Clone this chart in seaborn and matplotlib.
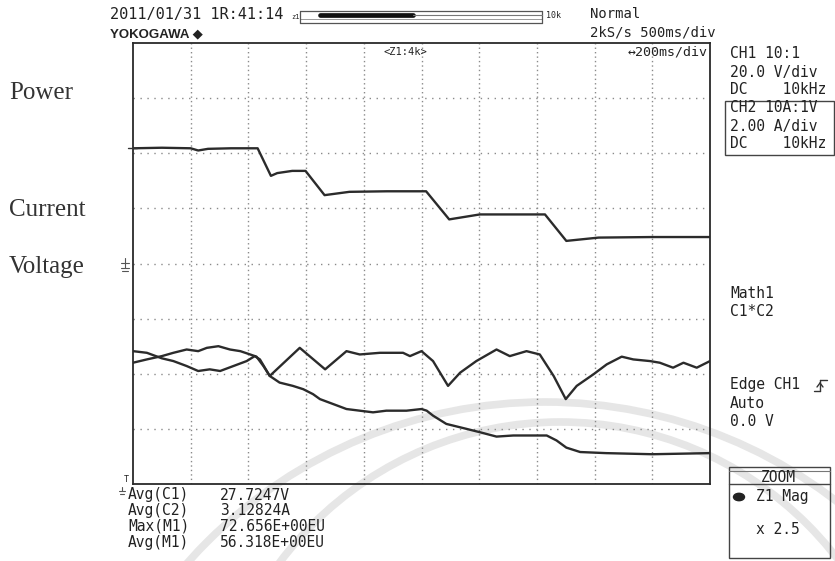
import numpy as np
import pandas as pd
import matplotlib
matplotlib.use("Agg")
import matplotlib.pyplot as plt
import seaborn as sns
from matplotlib.patches import Rectangle, Arc, Circle
from matplotlib.lines import Line2D

# ---- data (divisions: x 0..10, y -4..4) ----
power_x = [0.0, 0.5, 1.0, 1.13, 1.3, 1.7, 2.0, 2.16, 2.39, 2.5, 2.76, 2.99, 3.32, 3.75, 4.4, 5.08, 5.48, 6.01, 6.6, 7.14, 7.51, 8.07, 9.0, 10.0]
power_y = [2.09, 2.10, 2.09, 2.05, 2.08, 2.09, 2.09, 2.09, 1.59, 1.64, 1.68, 1.68, 1.24, 1.30, 1.31, 1.31, 0.80, 0.89, 0.89, 0.89, 0.41, 0.47, 0.48, 0.48]

current_x = [0.0, 0.24, 0.50, 0.70, 0.93, 1.13, 1.33, 1.51, 1.74, 1.97, 2.11, 2.20, 2.37, 2.89, 3.33, 3.70, 3.93, 4.28, 4.68, 4.80, 5.00, 5.20, 5.46, 5.67, 5.95, 6.30, 6.53, 6.82, 7.05, 7.29, 7.50, 7.69, 7.98, 8.21, 8.47, 8.67, 8.96, 9.13, 9.36, 9.54, 9.77, 10.0]
current_y = [-1.59, -1.62, -1.72, -1.77, -1.86, -1.95, -1.92, -1.95, -1.86, -1.77, -1.68, -1.74, -2.04, -1.53, -1.92, -1.59, -1.65, -1.62, -1.62, -1.68, -1.59, -1.77, -2.22, -1.98, -1.77, -1.56, -1.68, -1.59, -1.65, -2.04, -2.46, -2.22, -2.01, -1.83, -1.69, -1.74, -1.77, -1.80, -1.89, -1.80, -1.89, -1.77]

voltage_x = [0.0, 0.24, 0.50, 0.70, 0.93, 1.13, 1.28, 1.48, 1.68, 1.86, 2.03, 2.14, 2.26, 2.37, 2.54, 2.77, 2.95, 3.12, 3.24, 3.47, 3.70, 3.93, 4.16, 4.39, 4.74, 5.00, 5.09, 5.20, 5.43, 5.78, 6.01, 6.30, 6.59, 7.17, 7.34, 7.51, 7.75, 8.2, 9.0, 10.0]
voltage_y = [-1.80, -1.74, -1.68, -1.62, -1.56, -1.59, -1.53, -1.50, -1.56, -1.59, -1.65, -1.69, -1.86, -2.04, -2.16, -2.22, -2.28, -2.37, -2.46, -2.55, -2.64, -2.67, -2.70, -2.67, -2.67, -2.64, -2.67, -2.76, -2.91, -3.00, -3.06, -3.14, -3.12, -3.12, -3.21, -3.34, -3.42, -3.44, -3.46, -3.44]

left_labels = ["Power", "Current", "Voltage"]
meas_names = ["Avg(C1)", "Avg(C2)", "Max(M1)", "Avg(M1)"]
meas_values = ["27.7247V", "3.12824A", "72.656E+00EU", "56.318E+00EU"]

W, H = 835, 561
sns.set_theme(style="white")
plt.rcParams['font.family'] = ['DejaVu Sans Mono', 'DejaVu Sans']
fig = plt.figure(figsize=(W / 100, H / 100), dpi=100)
fig.patch.set_facecolor("white")


def fx(x):
    return x / W


def fy(y):
    return 1 - y / H


# faint watermark rings (behind everything)
for (cx, cy, r) in [(545, 880, 478), (560, 772, 350)]:
    fig.add_artist(Arc((fx(cx), fy(cy)), 2 * r / W, 2 * r / H, theta1=0, theta2=180,
                       color="#e6e6e6", lw=5.5, transform=fig.transFigure, zorder=-5))

L, R, T, B = 133, 710, 43, 484
ax = fig.add_axes([fx(L), fy(B), (R - L) / W, (B - T) / H])
ax.set_facecolor("none")
ax.set_xlim(0, 10)
ax.set_ylim(-4, 4)
ax.set_xticks([])
ax.set_yticks([])
for s in ax.spines.values():
    s.set_color("#2a2a2a")
    s.set_linewidth(1.3)

gc = "#8a8a8a"
for k in range(1, 10):
    ax.axvline(k, color=gc, lw=1.0, ls=(0, (1, 2.2)), zorder=0)
for k in range(-3, 4):
    ax.axhline(k, color=gc, lw=1.0, ls=(0, (1, 4.0)), zorder=0)

df_p = pd.DataFrame({"x": power_x, "y": power_y})
df_c = pd.DataFrame({"x": current_x, "y": current_y})
df_v = pd.DataFrame({"x": voltage_x, "y": voltage_y})
tc = "#2b2b2b"
for d in (df_p, df_c, df_v):
    sns.lineplot(data=d, x="x", y="y", ax=ax, color=tc, lw=1.7, sort=False, estimator=None)
ax.set_xlabel("")
ax.set_ylabel("")

mono = ["DejaVu Sans Mono", "DejaVu Sans"]
txtc = "#222222"


def t(x, y, s, size=10.5, ha="left", family=None, weight="normal", color=txtc):
    fig.text(fx(x), fy(y), s, fontsize=size, ha=ha, va="center",
             family=family if family is not None else mono,
             weight=weight, color=color)


def seg(x0, y0, x1, y1, color="#444444", lw=0.9):
    fig.add_artist(Line2D([fx(x0), fx(x1)], [fy(y0), fy(y1)], color=color, lw=lw))


# header
t(110, 15, "2011/01/31 1R:41:14", size=11)
t(291, 17, "z1", size=5)
seg(300, 11, 542, 11, "#555")
seg(300, 23, 542, 23, "#555")
seg(300, 19, 542, 19, "#999", 0.7)
seg(300, 11, 300, 23, "#555")
seg(542, 11, 542, 23, "#555")
seg(320, 14.5, 413, 14.5, "#111", 3.4)
seg(413, 14.5, 542, 14.5, "#777", 0.8)
t(546, 16, "10k", size=6)
t(590, 14, "Normal", size=10)
t(110, 34, "YOKOGAWA \u25C6", size=9.5,
  family=["Liberation Sans Narrow", "Liberation Sans", "DejaVu Sans"], weight="bold")
t(590, 32, "2kS/s 500ms/div", size=10)
t(405, 52, "<Z1:4k>", size=7.5, ha="center")
t(708, 52, "\u2194200ms/div", size=9.5, ha="right")

# right panel
rx = 730
t(rx, 53, "CH1 10:1")
t(rx, 72, "20.0 V/div")
t(rx, 89, "DC    10kHz")
fig.add_artist(Rectangle((fx(725), fy(155)), (834 - 725) / W, (155 - 101) / H,
                         fill=False, ec="#444", lw=1.0))
t(rx, 108, "CH2 10A:1V")
t(rx, 126, "2.00 A/div")
t(rx, 143, "DC    10kHz")
t(rx, 293, "Math1")
t(rx, 312, "C1*C2")
t(rx, 385, "Edge CH1")
t(rx, 403, "Auto")
t(rx, 421, "0.0 V")
# rising-edge trigger icon
seg(814, 391, 820, 391, "#333", 1.0)
seg(820, 391, 820, 380, "#333", 1.0)
seg(820, 380, 827, 380, "#333", 1.0)
seg(817, 387, 820, 383, "#333", 1.0)
seg(823, 387, 820, 383, "#333", 1.0)

# bottom measurements
for i, (n, v) in enumerate(zip(meas_names, meas_values)):
    yy = 495 + i * 15.7
    t(128, yy, n)
    t(220, yy, v)
t(124, 479, "T", size=6)
seg(119, 491, 125, 491, "#555", 0.8)
seg(120, 494, 124, 494, "#555", 0.8)
seg(122, 487, 122, 491, "#555", 0.8)

# zoom box
fig.add_artist(Rectangle((fx(729), fy(558)), (830 - 729) / W, (558 - 467) / H,
                         fill=False, ec="#444", lw=1.0))
seg(729, 471, 830, 471, "#777", 0.8)
seg(729, 484, 830, 484, "#444", 1.0)
t(778, 478, "ZOOM", size=10.5, ha="center")
fig.add_artist(Circle((fx(739), fy(497)), 5.5 / W, color="#222", transform=fig.transFigure))
t(756, 497, "Z1 Mag")
t(756, 530, "x 2.5")

# hand-added labels on the left
for lab, yy in zip(left_labels, [93, 210, 267]):
    fig.text(fx(9), fy(yy), lab, fontsize=18, family="Liberation Serif", va="center",
             ha="left", color="#333333")

# level marker for the power trace
seg(128, 148, 137, 148, "#333", 1.0)

# ground marker left of axis (voltage reference level)
gx, gy = 125, 266
seg(gx - 4, gy - 3, gx + 4, gy - 3, "#555", 0.8)
seg(gx, gy - 8, gx, gy + 2, "#555", 0.8)
seg(gx - 4, gy + 2, gx + 4, gy + 2, "#555", 0.8)
seg(gx - 2.5, gy + 4.5, gx + 2.5, gy + 4.5, "#555", 0.8)

fig.savefig("out.png", dpi=100, facecolor="white")
